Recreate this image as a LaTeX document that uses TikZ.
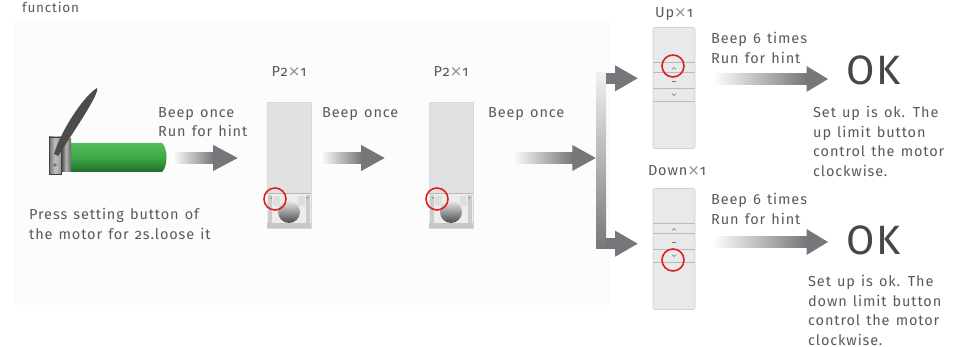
\documentclass[tikz,border=0pt]{standalone}
\usepackage{fontspec}
\setmainfont{Fira Sans}[Numbers=OldStyle, LetterSpace=6, WordSpace=1.3]
\newfontfamily\crossfont{DejaVu Sans}
\usetikzlibrary{calc}
\definecolor{txt}{HTML}{5A5A5A}
\definecolor{arrg}{HTML}{76777A}
\definecolor{remc}{HTML}{DFE1E3}
\definecolor{udc}{HTML}{E8E9EB}
\definecolor{reml}{HTML}{B9BABC}
\definecolor{okc}{HTML}{474747}
\definecolor{ringred}{HTML}{E0201E}
\definecolor{panel}{HTML}{FCFCFC}
\definecolor{grnL}{HTML}{55BC5A}
\definecolor{grnM}{HTML}{3FA846}
\definecolor{grnD}{HTML}{1F6E29}
\newcommand\tms{{\crossfont\fontsize{15}{15}\selectfont\color{black!45}×}}
\newcommand\fatarrow[3]{%
  \shade[left color=white, right color=arrg] ($(#1)+(0,-5.5)$) rectangle ($(#2)+(-#3,5.5)$);
  \fill[arrg] ($(#2)+(-#3-0.5,-13)$) -- (#2) -- ($(#2)+(-#3-0.5,13)$) -- cycle;
}
\tikzset{
  lbl/.style={text=txt, font=\fontsize{14.5}{19.5}\selectfont, align=left, inner sep=0pt, anchor=north west},
  ctr/.style={text=txt, font=\fontsize{14.5}{19.5}\selectfont, inner sep=0pt, anchor=north},
  oktext/.style={text=okc, font=\fontsize{41}{43}\selectfont, inner sep=0pt, anchor=west},
  ring/.style={draw=ringred, line width=1.6},
  p2remote/.pic={
    \node[fill=remc, draw=black!15, line width=0.6, minimum width=44, minimum height=126, inner sep=0] (-body) at (0,0) {};
    \fill[black!7] (-22,28) rectangle (22,63);
    \draw[black!28, line width=0.6] (-22,28) -- (22,28);
    \fill[black!20] (-21,30) rectangle (-17,61);
    \fill[black!20] (17,30) rectangle (21,61);
    \fill[black!13] (-16,31) rectangle (-9,41);
    \fill[black!13] (9,31) rectangle (16,41);
    \shade[top color=black!10, bottom color=black!70] (0,47) circle (11);
    \fill[black!22] (-22,58) rectangle (22,63);
    \fill[black!45] (-18,33) circle (1);
    \fill[black!45] (18,33) circle (1);
  },
  udremote/.pic={
    \node[fill=udc, draw=black!18, line width=0.6, rounded corners=1.5, minimum width=42, minimum height=121, inner sep=0] (-body) at (0,0) {};
    \draw[reml, line width=0.8] (-21,-25.5) -- (21,-25.5);
    \draw[reml, line width=1.6] (-21,-15.5) -- (21,-15.5);
    \draw[reml, line width=0.8] (-21,0.5) -- (21,0.5);
    \draw[reml, line width=0.8] (-21,13.5) -- (21,13.5);
    \draw[black!55, line width=0.6] (-2,-18.5) -- (0,-20.5) -- (2,-18.5);
    \draw[black!55, line width=0.8] (-2,-6.5) -- (2,-6.5);
    \draw[black!55, line width=0.6] (-2,5.5) -- (0,7.5) -- (2,5.5);
  }
}
\begin{document}
\begin{tikzpicture}[x=1pt,y=-1pt]
\useasboundingbox (0,0) rectangle (967,347);
\fill[white] (0,0) rectangle (967,347);
\fill[panel] (14,22) rectangle (610,305);

% title
\node[text=txt, font=\fontsize{13.5}{15}\selectfont, inner sep=0pt, anchor=north west] (tfunc) at (22,2) {function};

% motor
\node[inner sep=0, minimum width=97, minimum height=29, anchor=west] (motor) at (70,157.5) {};
\shade[top color=grnL, bottom color=grnD, middle color=grnM] (70,143) -- (162,143) .. controls (168,148) and (168,167) .. (162,172) -- (70,172) -- cycle;
\shade[left color=black!75, right color=black!60, middle color=black!30] (61,139) rectangle (71,172);
\shade[left color=black!55, right color=black!40, middle color=black!25] (49,137) rectangle (61,174);
\draw[black!75, line width=0.6] (49,137) rectangle (61,174);
\fill[black!55] (55,165) circle (1.8);
\fill[black!70] (54,154) .. controls (62,128) and (85,95) .. (97,88) .. controls (100,93) and (76,128) .. (58,156) -- cycle;

\node[lbl] (tbeep1) at (158,107) {Beep once\\Run for hint};
\node[lbl] (tpress) at (29,208) {Press setting button of\\the motor for 2s.loose it};

% P2 remotes
\pic (r1) at (289,165) {p2remote};
\pic (r2) at (451,165) {p2remote};
\draw[ring] (275,199) circle (11);
\draw[ring] (437,199) circle (11);
\node[ctr] (tp1) at (r1-body.north |- 0,66) {P2\tms1};
\node[ctr] (tp2) at (r2-body.north |- 0,66) {P2\tms1};
\node[lbl] (tbeep2) at (322,107) {Beep once};
\node[lbl] (tbeep3) at (488,107) {Beep once};

% arrows along main row
\coordinate (a1s) at ($(motor.east)+(5,0)$);
\coordinate (a1t) at ($(r1-body.west)+(-29,-7)$);
\fatarrow{a1s |- a1t}{a1t}{24}
\coordinate (a2s) at ($(r1-body.east)+(9,-7)$);
\coordinate (a2t) at ($(r2-body.west)+(-44,-7)$);
\fatarrow{a2s}{a2t}{23}

% branching bar
\node[inner sep=0, minimum width=10, minimum height=176, top color=black!6, bottom color=arrg] (bar) at (601,161) {};
\coordinate (a3s) at ($(r2-body.east)+(39,-7)$);
\fatarrow{a3s}{bar.west |- a3s}{23}

% Up / Down remotes
\pic (up) at (674,88) {udremote};
\pic (dn) at (674,249) {udremote};
\draw[ring] (673,66) circle (11);
\draw[ring] (673,260) circle (11);
\node[ctr] (tup) at (674,7) {Up\tms1};
\node[ctr] (tdn) at (677,165) {Down\tms1};

\coordinate (b1s) at ($(bar.north east)+(0,5.5)$);
\coordinate (b1t) at ($(up-body.west |- b1s)+(-15,0)$);
\fill[arrg] ($(b1s)+(0,-5.5)$) rectangle ($(b1t)+(-22,5.5)$);
\fill[arrg] ($(b1t)+(-22.5,-13)$) -- (b1t) -- ($(b1t)+(-22.5,13)$) -- cycle;
\coordinate (b2s) at ($(bar.south east)+(0,-5.5)$);
\coordinate (b2t) at ($(dn-body.west |- b2s)+(-15,0)$);
\fill[arrg] ($(b2s)+(0,-5.5)$) rectangle ($(b2t)+(-22,5.5)$);
\fill[arrg] ($(b2t)+(-22.5,-13)$) -- (b2t) -- ($(b2t)+(-22.5,13)$) -- cycle;

\node[lbl] (tb6a) at (711,32) {Beep 6 times\\Run for hint};
\node[lbl] (tb6b) at (711,193) {Beep 6 times\\Run for hint};

\node[oktext] (ok1) at (846,70) {OK};
\node[oktext] (ok2) at (846,240) {OK};

\coordinate (c1s) at ($(up-body.east)+(17,-9)$);
\fatarrow{c1s}{$(ok1.west |- c1s)+(-18,0)$}{21}
\coordinate (c2s) at ($(dn-body.east)+(17,-7)$);
\fatarrow{c2s}{$(ok2.west |- c2s)+(-18,0)$}{21}

\node[lbl] (tset1) at (813,106) {Set up is ok. The\\up limit button\\control the motor\\clockwise.};
\node[lbl] (tset2) at (808,275) {Set up is ok. The\\down limit button\\control the motor\\clockwise.};
\end{tikzpicture}
\end{document}
